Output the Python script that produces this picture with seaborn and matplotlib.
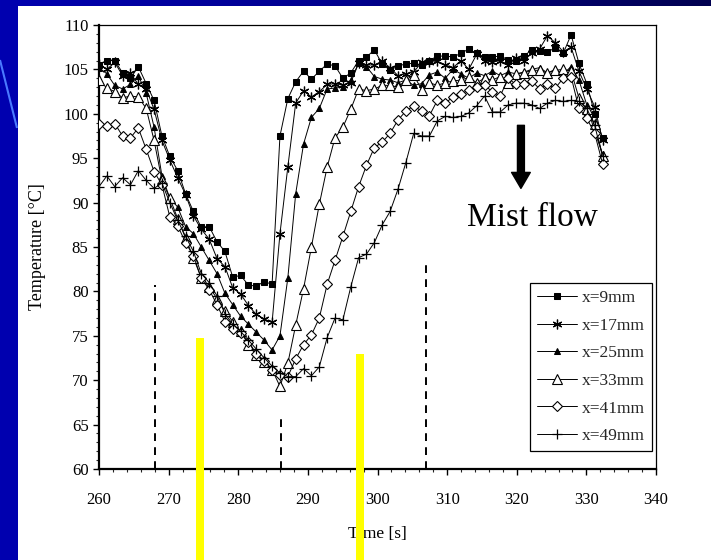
import numpy as np
import pandas as pd
import matplotlib
matplotlib.use("Agg")
import matplotlib.pyplot as plt
from matplotlib.patches import Rectangle
from matplotlib.colors import LinearSegmentedColormap
import seaborn as sns

# ---------------- data ----------------
time_s = [260.00, 261.13, 262.26, 263.39, 264.52, 265.65, 266.78, 267.91, 269.04, 270.17,
          271.30, 272.43, 273.56, 274.69, 275.82, 276.95, 278.08, 279.21, 280.34, 281.47,
          282.60, 283.73, 284.86, 285.99, 287.12, 288.25, 289.38, 290.51, 291.64, 292.77,
          293.90, 295.03, 296.16, 297.29, 298.42, 299.55, 300.68, 301.81, 302.94, 304.07,
          305.20, 306.33, 307.46, 308.59, 309.72, 310.85, 311.98, 313.11, 314.24, 315.37,
          316.50, 317.63, 318.76, 319.89, 321.02, 322.15, 323.28, 324.41, 325.54, 326.67,
          327.80, 328.93, 330.06, 331.19, 332.32]

x9mm = [105.5, 106.0, 106.0, 104.6, 104.0, 105.3, 103.4, 101.5, 97.5, 95.2,
        93.6, 91.0, 89.0, 87.2, 87.3, 85.6, 84.5, 81.6, 81.8, 80.7,
        80.6, 81.1, 80.8, 97.5, 101.7, 103.6, 104.8, 103.9, 104.8, 105.6,
        105.4, 104.0, 104.6, 106.0, 106.4, 107.2, 105.6, 104.9, 105.4, 105.6,
        105.7, 105.5, 106.0, 106.5, 106.5, 106.4, 106.8, 107.3, 106.8, 106.4,
        106.4, 106.5, 106.1, 106.0, 106.5, 107.2, 107.1, 107.0, 107.4, 106.8,
        108.9, 105.7, 103.4, 100.0, 97.3]

x17mm = [105.6, 105.0, 105.8, 104.3, 104.6, 103.3, 102.8, 100.5, 97.0, 94.8,
         92.8, 90.9, 88.5, 87.0, 85.9, 83.7, 82.8, 80.4, 79.7, 78.4,
         77.4, 76.9, 76.5, 86.5, 94.0, 101.2, 102.6, 101.9, 102.5, 103.3,
         103.4, 103.2, 103.5, 105.7, 105.5, 105.5, 105.9, 105.2, 104.3, 104.5,
         104.7, 105.8, 105.8, 105.9, 105.5, 105.2, 106.0, 105.0, 106.7, 106.0,
         105.8, 106.0, 105.5, 106.3, 106.0, 106.8, 107.3, 108.8, 108.0, 107.0,
         107.5, 104.8, 102.8, 100.8, 97.0]

x25mm = [105.2, 104.5, 103.2, 102.8, 103.3, 104.3, 102.3, 98.5, 93.0, 90.5,
         89.5, 87.3, 86.5, 85.0, 83.5, 82.0, 79.8, 78.5, 77.2, 76.3,
         75.4, 74.5, 73.4, 75.0, 81.5, 91.0, 96.6, 99.6, 100.6, 102.8,
         102.9, 103.0, 103.8, 105.7, 105.3, 104.2, 103.9, 103.8, 103.5, 103.8,
         103.2, 103.4, 104.4, 104.7, 104.0, 105.0, 104.5, 104.0, 104.6, 104.3,
         104.8, 104.3, 104.7, 104.5, 104.7, 105.0, 105.2, 104.6, 105.0, 104.5,
         105.3, 103.8, 101.0, 98.0, 95.5]

x33mm = [103.8, 102.9, 102.5, 101.8, 102.0, 101.9, 100.6, 97.0, 92.5, 90.5,
         88.2, 86.0, 83.8, 81.5, 80.5, 79.2, 77.8, 76.6, 75.5, 74.0,
         72.8, 72.0, 71.2, 69.3, 71.9, 76.2, 80.3, 85.0, 89.8, 94.0,
         97.3, 98.5, 100.5, 102.8, 102.6, 102.8, 103.2, 103.2, 103.0, 103.8,
         104.4, 102.7, 103.5, 103.2, 103.5, 103.7, 103.8, 104.1, 103.5, 104.0,
         103.8, 104.2, 103.5, 104.5, 104.6, 104.9, 104.9, 104.6, 104.9, 105.0,
         104.8, 101.8, 100.5, 98.9, 95.3]

x41mm = [98.9, 98.6, 98.9, 97.5, 97.3, 98.4, 96.0, 93.5, 92.0, 88.4,
         87.4, 85.5, 84.0, 81.5, 80.2, 78.5, 76.6, 75.8, 75.3, 74.3,
         73.0, 72.2, 71.2, 70.6, 70.4, 72.4, 74.0, 75.1, 77.0, 80.8,
         83.5, 86.2, 89.0, 91.8, 94.2, 96.2, 96.8, 97.8, 99.3, 100.3,
         100.9, 100.3, 99.8, 101.5, 101.2, 101.9, 102.2, 102.7, 103.0, 103.2,
         102.5, 102.0, 104.0, 103.3, 103.3, 103.7, 102.8, 103.3, 102.9, 104.0,
         104.2, 100.6, 99.5, 97.8, 94.4]

x49mm = [91.8, 93.0, 91.8, 92.8, 92.0, 93.6, 92.5, 91.6, 92.2, 90.0,
         88.0, 86.2, 84.5, 82.0, 81.0, 79.5, 77.5, 76.3, 75.5, 74.5,
         73.5, 72.5, 71.6, 70.8, 70.4, 70.4, 71.3, 70.5, 71.5, 74.8,
         77.0, 76.8, 80.5, 83.8, 84.2, 85.5, 87.5, 89.0, 91.5, 94.5,
         97.8, 97.5, 97.5, 99.2, 99.7, 99.6, 99.7, 100.1, 100.9, 102.0,
         100.2, 100.2, 101.0, 101.2, 101.2, 101.0, 100.6, 101.2, 101.5, 101.4,
         101.5, 101.4, 100.6, 98.7, 95.2]

series_labels = ["x=9mm", "x=17mm", "x=25mm", "x=33mm", "x=41mm", "x=49mm"]
series_values = [x9mm, x17mm, x25mm, x33mm, x41mm, x49mm]

# dashed markers (time, top temperature)
dash_times = [268.0, 286.2, 306.9]
dash_tops = [80.7, 66.0, 83.0]
# yellow bars (center time, top temperature)
yellow_times = [274.5, 297.5]
yellow_tops = [74.7, 73.0]

# ---------------- styling ----------------
sns.set_theme(style="ticks")
plt.rcParams["font.family"] = ["Liberation Serif", "DejaVu Serif"]

W, H = 711, 560
fig = plt.figure(figsize=(W / 100, H / 100), dpi=100)

# background: blue slide with gradient top strip
bg = fig.add_axes([0, 0, 1, 1])
bg.set_xlim(0, W)
bg.set_ylim(H, 0)
bg.axis("off")
grad = np.linspace(0, 1, 256).reshape(1, -1)
cmap = LinearSegmentedColormap.from_list("slide", ["#0000b0", "#00008c", "#000050"])
bg.imshow(grad, extent=[0, W, H, 0], aspect="auto", cmap=cmap, zorder=0)
bg.add_patch(Rectangle((18, 6), W - 18, H - 6, facecolor="white", edgecolor="none", zorder=1))
bg.plot([0, 17], [60, 128], color="#4a7aff", lw=1.5, zorder=2, solid_capstyle="butt")

left, right, top, bottom = 99, 656, 25, 469
ax = fig.add_axes([left / W, 1 - bottom / H, (right - left) / W, (bottom - top) / H])
ax.set_facecolor("white")

styles = [
    dict(marker="s", ms=4.3, mfc="black", mec="black"),
    dict(marker=(6, 2, 0), ms=7, mfc="black", mec="black", mew=0.9),
    dict(marker="^", ms=4.3, mfc="black", mec="black"),
    dict(marker="^", ms=6.5, mfc="white", mec="black", mew=0.8),
    dict(marker="D", ms=5.5, mfc="white", mec="black", mew=0.8),
    dict(marker="+", ms=7.5, mfc="black", mec="black", mew=0.9),
]

for lab, vals, st in zip(series_labels, series_values, styles):
    df = pd.DataFrame({"Time": time_s, "Temp": vals})
    sns.lineplot(data=df, x="Time", y="Temp", ax=ax, color="black", lw=0.7,
                 label=lab, zorder=3, **st)

# dashed verticals
for t, top_v in zip(dash_times, dash_tops):
    ax.plot([t, t], [60, top_v], color="black", lw=1.4, ls=(0, (4, 3.2)), zorder=2)

ax.set_xlim(260, 340)
ax.set_ylim(60, 110)
ax.set_xticks(np.arange(260, 341, 10))
ax.set_xticks(np.arange(260, 341, 2), minor=True)
ax.set_yticks(np.arange(60, 111, 5))
ax.set_yticks(np.arange(60, 111, 1), minor=True)
ax.tick_params(axis="both", which="major", direction="out", length=4.5, width=1.0,
               labelsize=12, colors="black", pad=3)
ax.tick_params(axis="both", which="minor", direction="out", length=2.5, width=0.8)
ax.tick_params(axis="x", which="major", pad=12)
for side in ["left", "bottom"]:
    ax.spines[side].set_linewidth(1.6)
for side in ["top", "right"]:
    ax.spines[side].set_linewidth(0.9)
for s in ax.spines.values():
    s.set_color("black")

ax.set_xlabel("Time [s]", fontsize=12.5, color="black", labelpad=13)
ax.set_ylabel("Temperature [°C]", fontsize=13, color="black", labelpad=13)

# Mist flow annotation
ax.annotate("", xy=(320.6, 91.6), xytext=(320.6, 98.7),
            arrowprops=dict(width=5, headwidth=13.5, headlength=11.5, facecolor="black",
                            edgecolor="black", shrink=0))
ax.text(322.3, 88.3, "Mist flow", fontsize=24, ha="center", va="center", color="black")

# yellow bars
for t, top_v in zip(yellow_times, yellow_tops):
    ax.add_patch(Rectangle((t - 0.6, 49.0), 1.2, top_v - 49.0, facecolor="#ffff00",
                           edgecolor="none", clip_on=False, zorder=10))

leg = ax.legend(loc="upper left", bbox_to_anchor=(0.774, 0.419), fontsize=12.5,
                frameon=True, fancybox=False, edgecolor="black", framealpha=1,
                labelspacing=0.66, handlelength=2.3, handletextpad=0.3,
                borderpad=0.4, borderaxespad=0)
leg.get_frame().set_linewidth(0.9)

fig.savefig("out.png", dpi=100, facecolor=fig.get_facecolor())
